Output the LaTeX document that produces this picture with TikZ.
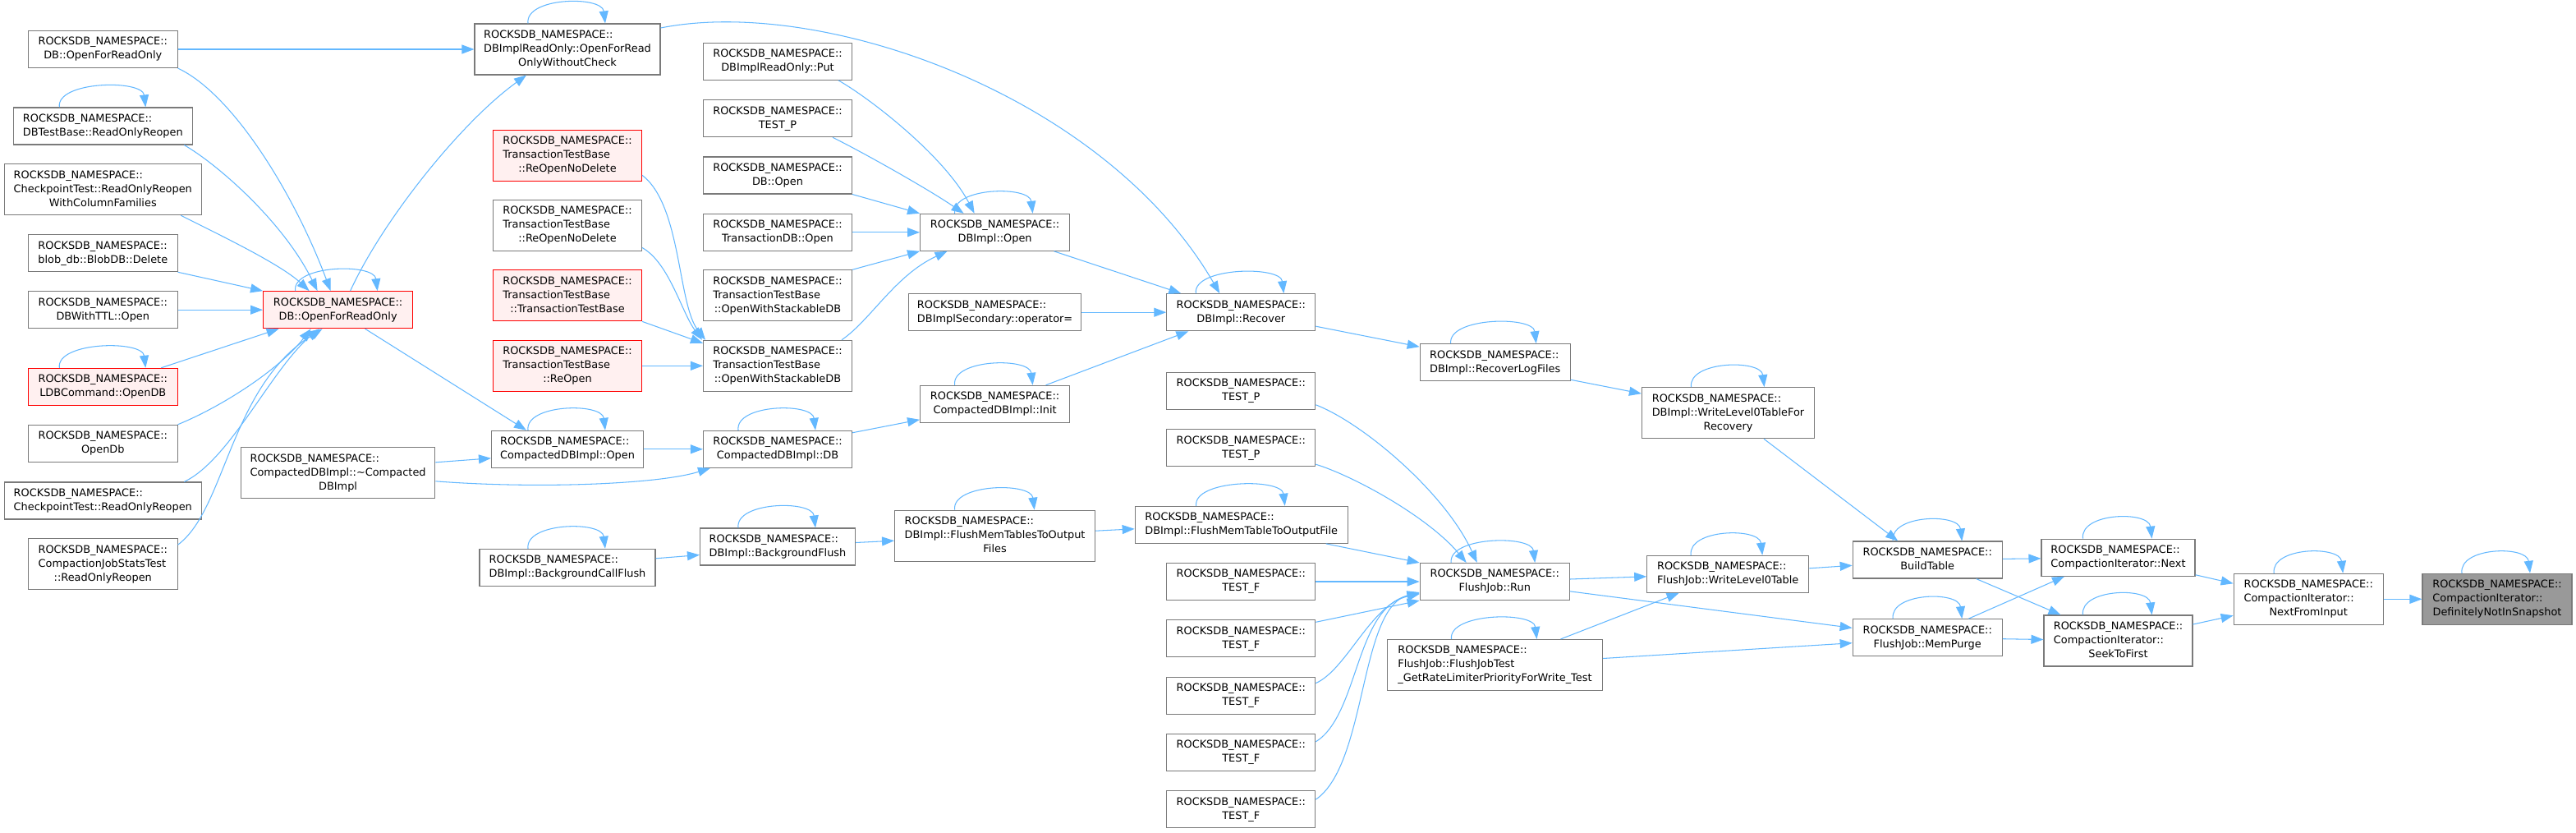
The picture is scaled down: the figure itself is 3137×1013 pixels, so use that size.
\documentclass[tikz,border=0pt]{standalone}
\usepackage{fontspec}
\setmainfont{DejaVu Sans}
\usetikzlibrary{arrows.meta}
\definecolor{edgeblue}{HTML}{63B8FF}
\definecolor{bordergray}{HTML}{7A7A7A}
\definecolor{pinkfill}{HTML}{FFF0F0}
\definecolor{rootfill}{HTML}{999999}
\newcommand\nodefont{\fontsize{12.9pt}{17pt}\selectfont}
\newcommand\RN{ROCKSDB\_NAMESPACE::}
\newcommand\twol[1]{\begin{tabular}{@{}l@{}}\RN\\\multicolumn{1}{@{}c@{}}{#1}\end{tabular}}
\newcommand\threel[2]{\begin{tabular}{@{}l@{}}\RN\\#1\\\multicolumn{1}{@{}c@{}}{#2}\end{tabular}}
\tikzset{
  fn/.style={draw=bordergray, fill=white, line width=1.1pt, rectangle, inner sep=0pt,
    font=\nodefont, minimum height=45pt, text=black},
  fnthree/.style={minimum height=62pt},
  fnred/.style={draw=red, fill=pinkfill},
  fnroot/.style={fill=rootfill},
  edge/.style={draw=edgeblue, line width=1.05pt, -{Triangle[length=15pt,width=11pt]}},
}
\newcommand\selfloop[3]{\draw[edge] ([xshift=#2pt]#1.north) .. controls ([xshift=#2pt-4pt,yshift=32pt]#1.north) and ([xshift=#3pt-4pt,yshift=34pt]#1.north) .. ([xshift=#3pt]#1.north);}
\begin{document}
\begin{tikzpicture}[x=1pt,y=1pt]
\fill[white] (0,0) rectangle (3137,-1013);
\useasboundingbox (0,0) rectangle (3137,-1013);

% column 1
\node[fn, minimum width=181.5pt] (dbofro) at (125.3,-60) {\twol{DB::OpenForReadOnly}};
\node[fn, minimum width=218pt] (dbtb) at (125.3,-153.5) {\twol{DBTestBase::ReadOnlyReopen}};
\node[fn, fnthree, minimum width=240pt] (cpcf) at (125.3,-230.7) {\threel{CheckpointTest::ReadOnlyReopen}{WithColumnFamilies}};
\node[fn, minimum width=181.5pt] (blob) at (125.3,-308.2) {\twol{blob\_db::BlobDB::Delete}};
\node[fn, minimum width=181.5pt] (ttl) at (125.3,-377.2) {\twol{DBWithTTL::Open}};
\node[fn, fnred, minimum width=181.5pt] (ldb) at (125.3,-470.8) {\twol{LDBCommand::OpenDB}};
\node[fn, minimum width=181.5pt] (opendb) at (125.3,-539.8) {\twol{OpenDb}};
\node[fn, minimum width=240pt] (cpro) at (125.3,-609.5) {\twol{CheckpointTest::ReadOnlyReopen}};
\node[fn, fnthree, minimum width=181.5pt] (cjst) at (125.3,-686.7) {\threel{CompactionJobStatsTest}{::ReadOnlyReopen}};

% column 2
\node[fn, fnred, minimum width=182pt] (dbofro2) at (411.6,-377.2) {\twol{DB::OpenForReadOnly}};
\node[fn, fnthree, minimum width=236.4pt] (dcdtor) at (411.6,-575.8) {\threel{CompactedDBImpl::\textasciitilde Compacted}{DBImpl}};

% column 3
\node[fn, fnthree, minimum width=226pt] (roc) at (691,-60) {\threel{DBImplReadOnly::OpenForRead}{OnlyWithoutCheck}};
\node[fn, fnthree, fnred, minimum width=181pt] (reopnd1) at (691,-189.3) {\threel{TransactionTestBase}{::ReOpenNoDelete}};
\node[fn, fnthree, minimum width=181pt] (reopnd2) at (691,-274.5) {\threel{TransactionTestBase}{::ReOpenNoDelete}};
\node[fn, fnthree, fnred, minimum width=181pt] (ttbctor) at (691,-359.8) {\threel{TransactionTestBase}{::TransactionTestBase}};
\node[fn, fnthree, fnred, minimum width=181pt] (reopen) at (691,-445.3) {\threel{TransactionTestBase}{::ReOpen}};
\node[fn, minimum width=185pt] (cdbopen) at (691,-546.8) {\twol{CompactedDBImpl::Open}};
\node[fn, minimum width=214pt] (bgcf) at (691,-690.8) {\twol{DBImpl::BackgroundCallFlush}};

% column 4
\node[fn, minimum width=181pt] (put) at (947,-74.8) {\twol{DBImplReadOnly::Put}};
\node[fn, minimum width=181pt] (testp1) at (947,-144.2) {\twol{TEST\_P}};
\node[fn, minimum width=181pt] (dbopen) at (947,-213.5) {\twol{DB::Open}};
\node[fn, minimum width=181pt] (txdbopen) at (947,-282.8) {\twol{TransactionDB::Open}};
\node[fn, fnthree, minimum width=181pt] (ows1) at (947,-359.8) {\threel{TransactionTestBase}{::OpenWithStackableDB}};
\node[fn, fnthree, minimum width=181pt] (ows2) at (947,-445.3) {\threel{TransactionTestBase}{::OpenWithStackableDB}};
\node[fn, minimum width=181pt] (cdb) at (947,-546.8) {\twol{CompactedDBImpl::DB}};
\node[fn, minimum width=189pt] (bgf) at (947,-665.5) {\twol{DBImpl::BackgroundFlush}};

% column 5
\node[fn, minimum width=182pt] (dbimplopen) at (1211.6,-282.8) {\twol{DBImpl::Open}};
\node[fn, minimum width=210pt] (sec) at (1211.6,-380.2) {\twol{DBImplSecondary::operator=}};
\node[fn, minimum width=182pt] (cinit) at (1211.6,-491.8) {\twol{CompactedDBImpl::Init}};
\node[fn, fnthree, minimum width=244pt] (fmts) at (1211.6,-652.2) {\threel{DBImpl::FlushMemTablesToOutput}{Files}};

% column 6
\node[fn, minimum width=181pt] (recover) at (1511.3,-380.2) {\twol{DBImpl::Recover}};
\node[fn, minimum width=181pt] (testp2) at (1511.3,-475.8) {\twol{TEST\_P}};
\node[fn, minimum width=181pt] (testp3) at (1511.3,-545.2) {\twol{TEST\_P}};
\node[fn, minimum width=259pt] (fmtf) at (1511.7,-638.8) {\twol{DBImpl::FlushMemTableToOutputFile}};
\node[fn, minimum width=181pt] (testf1) at (1511.3,-708) {\twol{TEST\_F}};
\node[fn, minimum width=181pt] (testf2) at (1511.3,-777.3) {\twol{TEST\_F}};
\node[fn, minimum width=181pt] (testf3) at (1511.3,-846.6) {\twol{TEST\_F}};
\node[fn, minimum width=181pt] (testf4) at (1511.3,-915.9) {\twol{TEST\_F}};
\node[fn, minimum width=181pt] (testf5) at (1511.3,-985.2) {\twol{TEST\_F}};

% column 7
\node[fn, minimum width=183pt] (rlf) at (1820.7,-441.2) {\twol{DBImpl::RecoverLogFiles}};
\node[fn, minimum width=182pt] (run) at (1820.2,-708) {\twol{FlushJob::Run}};
\node[fn, fnthree, minimum width=262pt] (fjt) at (1820.5,-809.5) {\threel{FlushJob::FlushJobTest}{\_GetRateLimiterPriorityForWrite\_Test}};

% column 8
\node[fn, fnthree, minimum width=210pt] (wl0r) at (2104.5,-502.7) {\threel{DBImpl::WriteLevel0TableFor}{Recovery}};
\node[fn, minimum width=197pt] (wl0) at (2104.2,-698.8) {\twol{FlushJob::WriteLevel0Table}};

% column 9
\node[fn, minimum width=182pt] (bt) at (2347.2,-681.5) {\twol{BuildTable}};
\node[fn, minimum width=182pt] (mp) at (2347.2,-776.2) {\twol{FlushJob::MemPurge}};

% column 10
\node[fn, minimum width=187pt] (next) at (2579.5,-678.7) {\twol{CompactionIterator::Next}};
\node[fn, fnthree, minimum width=181pt] (seek) at (2579.5,-780) {\threel{CompactionIterator::}{SeekToFirst}};

% column 11, 12
\node[fn, fnthree, minimum width=182pt] (nfi) at (2811.2,-729.3) {\threel{CompactionIterator::}{NextFromInput}};
\node[fn, fnthree, fnroot, minimum width=182pt] (dnis) at (3041,-729.3) {\threel{CompactionIterator::}{DefinitelyNotInSnapshot}};

% edges into red DB::OpenForReadOnly
\draw[edge] (dbofro) -- (roc);
\draw[edge] (dbofro.south east) .. controls (285,-115) and (360,-240) .. ([xshift=-9pt]dbofro2.north);
\draw[edge] ([xshift=99pt]dbtb.south) .. controls (265,-200) and (345,-270) .. ([xshift=-25pt]dbofro2.north);
\draw[edge] ([xshift=95pt]cpcf.south) .. controls (255,-280) and (340,-320) .. ([xshift=-35pt]dbofro2.north);
\draw[edge] (blob.south east) -- (dbofro2.north west);
\draw[edge] (ttl) -- (dbofro2);
\draw[edge] ([xshift=71pt]ldb.north) -- ([xshift=-72pt]dbofro2.south);
\draw[edge] (opendb.north east) .. controls (270,-495) and (340,-450) .. ([xshift=-33pt]dbofro2.south);
\draw[edge] ([xshift=99pt]cpro.north) .. controls (280,-560) and (330,-450) .. ([xshift=-23pt]dbofro2.south);
\draw[edge] ([yshift=-8pt]cjst.north east) .. controls (275,-620) and (280,-470) .. ([xshift=-19pt]dbofro2.south);

% from red DB::OpenForReadOnly
\draw[edge] ([xshift=15pt]dbofro2.north) .. controls (465,-270) and (560,-150) .. ([xshift=-50pt]roc.south);
\draw[edge] ([xshift=33pt]dbofro2.south) -- ([xshift=-50pt]cdbopen.north);

\draw[edge] ([yshift=13pt]dcdtor.east) -- ([yshift=-11pt]cdbopen.west);
\draw[edge] ([yshift=-10pt]dcdtor.east) .. controls (650,-595) and (800,-590) .. ([xshift=-82pt]cdb.south);
\draw[edge] (cdbopen) -- (cdb);
\draw[edge] ([yshift=11pt]bgcf.east) -- ([yshift=-10pt]bgf.west);

% transaction tests
\draw[edge] ([yshift=-24pt]reopnd1.east) .. controls (830,-250) and (825,-370) .. ([xshift=-88pt]ows2.north);
\draw[edge] ([yshift=-27pt]reopnd2.east) .. controls (815,-320) and (830,-380) .. ([xshift=-92pt]ows2.north);
\draw[edge] (ttbctor.south east) -- ([yshift=-4pt]ows2.north west);
\draw[edge] (reopen) -- (ows2);

% into DBImpl::Open
\draw[edge] ([xshift=74pt]put.south) .. controls (1060,-120) and (1150,-190) .. ([xshift=-25pt]dbimplopen.north);
\draw[edge] ([xshift=67pt]testp1.south) .. controls (1050,-185) and (1130,-230) .. ([xshift=-38pt]dbimplopen.north);
\draw[edge] (dbopen.south east) -- (dbimplopen.north west);
\draw[edge] (txdbopen) -- (dbimplopen);
\draw[edge] (ows1.north east) -- (dbimplopen.south west);
\draw[edge] ([xshift=78pt]ows2.north) .. controls (1060,-390) and (1090,-335) .. ([xshift=-58pt]dbimplopen.south);

% into Recover
\draw[edge] ([xshift=72pt]dbimplopen.south) -- ([xshift=-73pt]recover.north);
\draw[edge] ([yshift=26pt]roc.east) .. controls (1000,5) and (1345,-115) .. ([xshift=-26pt]recover.north);
\draw[edge] (sec) -- (recover);
\draw[edge] ([xshift=62pt]cinit.north) -- ([xshift=-64pt]recover.south);
\draw[edge] ([yshift=-3pt]cdb.north east) -- ([yshift=-19pt]cinit.west);
\draw[edge] ([yshift=5pt]bgf.east) -- ([yshift=-6pt]fmts.west);
\draw[edge] ([yshift=6pt]fmts.east) -- ([yshift=-5pt]fmtf.west);
\draw[edge] ([yshift=-17pt]recover.east) -- ([yshift=-4pt]rlf.north west);
\draw[edge] ([yshift=2pt]rlf.south east) -- ([yshift=-8pt]wl0r.north west);
\draw[edge] ([xshift=43.5pt]wl0r.south) -- ([xshift=-36pt]bt.north);

% into FlushJob::Run
\draw[edge] ([yshift=-17pt]testp2.east) .. controls (1660,-515) and (1760,-600) .. ([xshift=-21.5pt]run.north);
\draw[edge] ([yshift=-20pt]testp3.east) .. controls (1650,-580) and (1740,-630) .. ([xshift=-34.5pt]run.north);
\draw[edge] ([xshift=103pt]fmtf.south) -- (run.north west);
\draw[edge] (testf1) -- (run);
\draw[edge] ([yshift=20pt]testf2.east) -- (run.south west);
\draw[edge] ([yshift=15pt]testf3.east) .. controls (1640,-815) and (1670,-735) .. ([yshift=-15pt]run.west);
\draw[edge] ([yshift=13pt]testf4.east) .. controls (1655,-870) and (1650,-740) .. ([yshift=-14pt]run.west);
\draw[edge] ([yshift=12pt]testf5.east) .. controls (1665,-930) and (1655,-740) .. ([yshift=-13pt]run.west);

% right part
\draw[edge] ([yshift=3pt]run.east) -- ([yshift=-3pt]wl0.west);
\draw[edge] (run) -- (mp);
\draw[edge] ([xshift=80pt]fjt.north) -- ([xshift=-59.6pt]wl0.south);
\draw[edge] ([yshift=8pt]fjt.east) -- ([yshift=-6.5pt]mp.west);
\draw[edge] ([yshift=7pt]wl0.east) -- ([yshift=-6.8pt]bt.west);
\draw[edge] (bt) -- (next);
\draw[edge] ([xshift=59.4pt]bt.south) -- ([xshift=-70pt]seek.north);
\draw[edge] ([xshift=50pt]mp.north) -- ([xshift=-65.5pt]next.south);
\draw[edge] (mp) -- (seek);
\draw[edge] ([yshift=2pt]next.south east) -- ([yshift=19pt]nfi.west);
\draw[edge] ([yshift=20pt]seek.east) -- ([yshift=-20pt]nfi.west);
\draw[edge] (nfi) -- (dnis);

% self loops
\selfloop{dbtb}{-53}{52}
\selfloop{ldb}{-53}{52}
\selfloop{dbofro2}{-52}{48}
\selfloop{roc}{-48}{46}
\selfloop{cdbopen}{-48}{46}
\selfloop{bgcf}{-48}{46}
\selfloop{dbimplopen}{-49}{46}
\selfloop{cdb}{-48}{46}
\selfloop{bgf}{-48}{46}
\selfloop{fmts}{-49}{48}
\selfloop{cinit}{-49}{46}
\selfloop{recover}{-55}{52}
\selfloop{fmtf}{-55}{53}
\selfloop{rlf}{-54}{50}
\selfloop{run}{-53}{49}
\selfloop{fjt}{-53}{51}
\selfloop{wl0r}{-45}{44}
\selfloop{wl0}{-45}{42}
\selfloop{bt}{-42}{42}
\selfloop{mp}{-42}{42}
\selfloop{next}{-43}{41}
\selfloop{seek}{-43}{41}
\selfloop{nfi}{-42}{42}
\selfloop{dnis}{-43}{40}
\end{tikzpicture}
\end{document}
